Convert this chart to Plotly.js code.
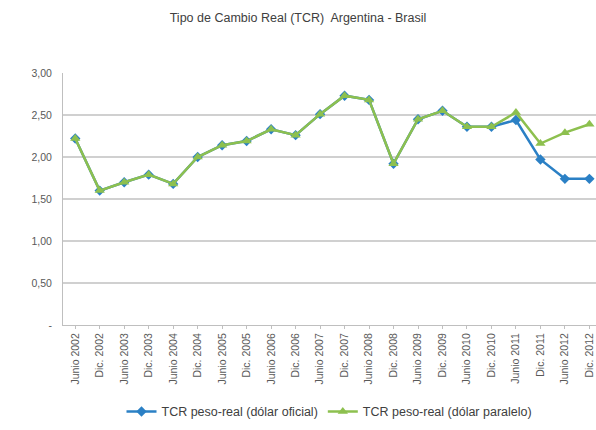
<!DOCTYPE html>
<html>
<head>
<meta charset="utf-8">
<script src="https://cdn.plot.ly/plotly-3.0.1.min.js"></script>
<style>html,body{margin:0;padding:0;background:#fff;}#chart{width:596px;height:430px;}</style>
</head>
<body>
<div id="chart"></div>
<script>
var categories = ["Junio 2002","Dic. 2002","Junio 2003","Dic. 2003","Junio 2004","Dic. 2004","Junio 2005","Dic. 2005","Junio 2006","Dic. 2006","Junio 2007","Dic. 2007","Junio 2008","Dic. 2008","Junio 2009","Dic. 2009","Junio 2010","Dic. 2010","Junio 2011","Dic. 2011","Junio 2012","Dic. 2012"];
var oficial = [2.22,1.60,1.70,1.79,1.68,2.00,2.14,2.19,2.33,2.26,2.51,2.73,2.68,1.92,2.45,2.55,2.36,2.36,2.44,1.97,1.74,1.74];
var paralelo = [2.22,1.60,1.70,1.79,1.68,2.00,2.14,2.19,2.33,2.26,2.51,2.73,2.68,1.92,2.45,2.55,2.36,2.36,2.53,2.16,2.29,2.39];
var yTickVals = [0,0.5,1,1.5,2,2.5,3];
var yTickText = ["-","0,50","1,00","1,50","2,00","2,50","3,00"];

var traces = [
  {x: categories, y: oficial, type: "scatter", mode: "lines+markers", name: "TCR peso-real (dólar oficial)",
   line: {color: "#2b80c5", width: 2.5}, marker: {symbol: "diamond", size: 8, color: "#2b80c5"}},
  {x: categories, y: paralelo, type: "scatter", mode: "lines+markers", name: "TCR peso-real (dólar paralelo)",
   line: {color: "#8dc04f", width: 2.5}, marker: {symbol: "triangle-up", size: 9, color: "#8dc04f"}}
];
var layout = {
  width: 596, height: 430,
  margin: {l: 63, r: 0, t: 73, b: 105},
  paper_bgcolor: "#fff", plot_bgcolor: "#fff",
  font: {family: "Arial, Liberation Sans, sans-serif", color: "#595959", size: 10},
  title: {text: "Tipo de Cambio Real (TCR)  Argentina - Brasil", x: 0.5, xanchor: "center", y: 0.958, yanchor: "middle",
          font: {size: 12.5, color: "#404040"}},
  showlegend: true,
  legend: {orientation: "h", x: 0.5, xanchor: "center", y: -0.285, yanchor: "top", font: {size: 12.5, color: "#404040"},
           traceorder: "normal", itemwidth: 30},
  xaxis: {type: "category", range: [-0.5, 21.27], tickangle: -90, showgrid: false, showline: true, linecolor: "#bfbfbf", linewidth: 1,
          ticks: "outside", ticklen: 3, tickcolor: "#bfbfbf", tickfont: {size: 10.5, color: "#595959"}, fixedrange: true},
  yaxis: {range: [0, 3], tickvals: yTickVals, ticktext: yTickText, showgrid: true, gridcolor: "#d0d0d0", gridwidth: 1.5,
          showline: true, linecolor: "#bfbfbf", linewidth: 1, zeroline: false, tickfont: {size: 10.5, color: "#595959"}, ticks: "", ticklabelstandoff: 8}
};
Plotly.newPlot("chart", traces, layout, {staticPlot: true, displayModeBar: false});
</script>
</body>
</html>
